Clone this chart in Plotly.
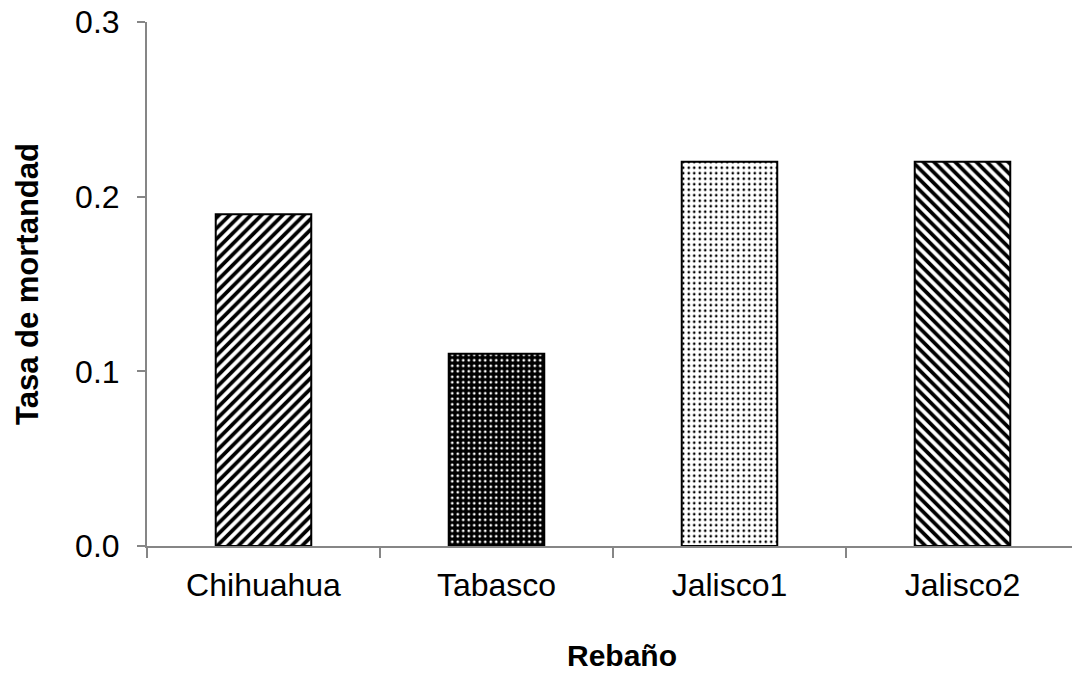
import plotly.graph_objects as go

# Mortality rate by herd
rebanos = ["Chihuahua", "Tabasco", "Jalisco1", "Jalisco2"]
tasa_mortandad = [0.19, 0.11, 0.22, 0.22]

# Hatch fill for each bar
shapes = ["/", ".", ".", "\\"]
fg_colors = ["black", "white", "black", "black"]
bg_colors = ["white", "black", "white", "white"]
pat_sizes = [7.5, 5.5, 5.5, 7.5]
pat_solidity = [0.5, 0.2, 0.18, 0.5]

y_ticks = [0.0, 0.1, 0.2, 0.3]
y_ticklabels = ["0.0", "0.1", "0.2", "0.3"]

axis_grey = "#868686"
font_family = "Liberation Sans, Arial, sans-serif"

fig = go.Figure()
for name, val, shp, fg, bg, sz, sol in zip(
    rebanos, tasa_mortandad, shapes, fg_colors, bg_colors, pat_sizes, pat_solidity
):
    fig.add_trace(
        go.Bar(
            x=[name],
            y=[val],
            name=name,
            width=0.41,
            marker=dict(
                color=bg,
                line=dict(color="black", width=2),
                pattern=dict(
                    shape=shp,
                    fgcolor=fg,
                    bgcolor=bg,
                    size=sz,
                    solidity=sol,
                    fillmode="replace",
                ),
            ),
            hoverinfo="x+y",
        )
    )

fig.update_layout(
    width=1072,
    height=676,
    margin=dict(l=147, r=0, t=22, b=130),
    plot_bgcolor="white",
    paper_bgcolor="white",
    showlegend=False,
    barmode="overlay",
    font=dict(family=font_family, size=32, color="black"),
    annotations=[
        dict(
            text="<b>Rebaño</b>",
            xref="paper",
            yref="paper",
            x=0.5135,
            y=-0.209,
            xanchor="center",
            yanchor="middle",
            showarrow=False,
            font=dict(size=30),
        )
    ],
)

fig.update_xaxes(
    type="category",
    categoryorder="array",
    categoryarray=rebanos,
    range=[-0.5, 3.47],
    showline=True,
    linecolor=axis_grey,
    linewidth=2,
    ticks="outside",
    tickson="boundaries",
    ticklen=10,
    tickwidth=2,
    tickcolor=axis_grey,
    showgrid=False,
    zeroline=False,
    tickfont=dict(size=32),
    ticklabelstandoff=10,
    automargin=False,
)

fig.update_yaxes(
    range=[0, 0.3],
    tickvals=y_ticks,
    ticktext=y_ticklabels,
    showline=True,
    linecolor=axis_grey,
    linewidth=2,
    ticks="outside",
    ticklen=8,
    tickwidth=2,
    tickcolor=axis_grey,
    showgrid=False,
    zeroline=False,
    tickfont=dict(size=32),
    ticklabelstandoff=11,
    title=dict(text="<b>Tasa de mortandad</b>", font=dict(size=31), standoff=27),
    automargin=False,
)

fig.write_html("out.html")
